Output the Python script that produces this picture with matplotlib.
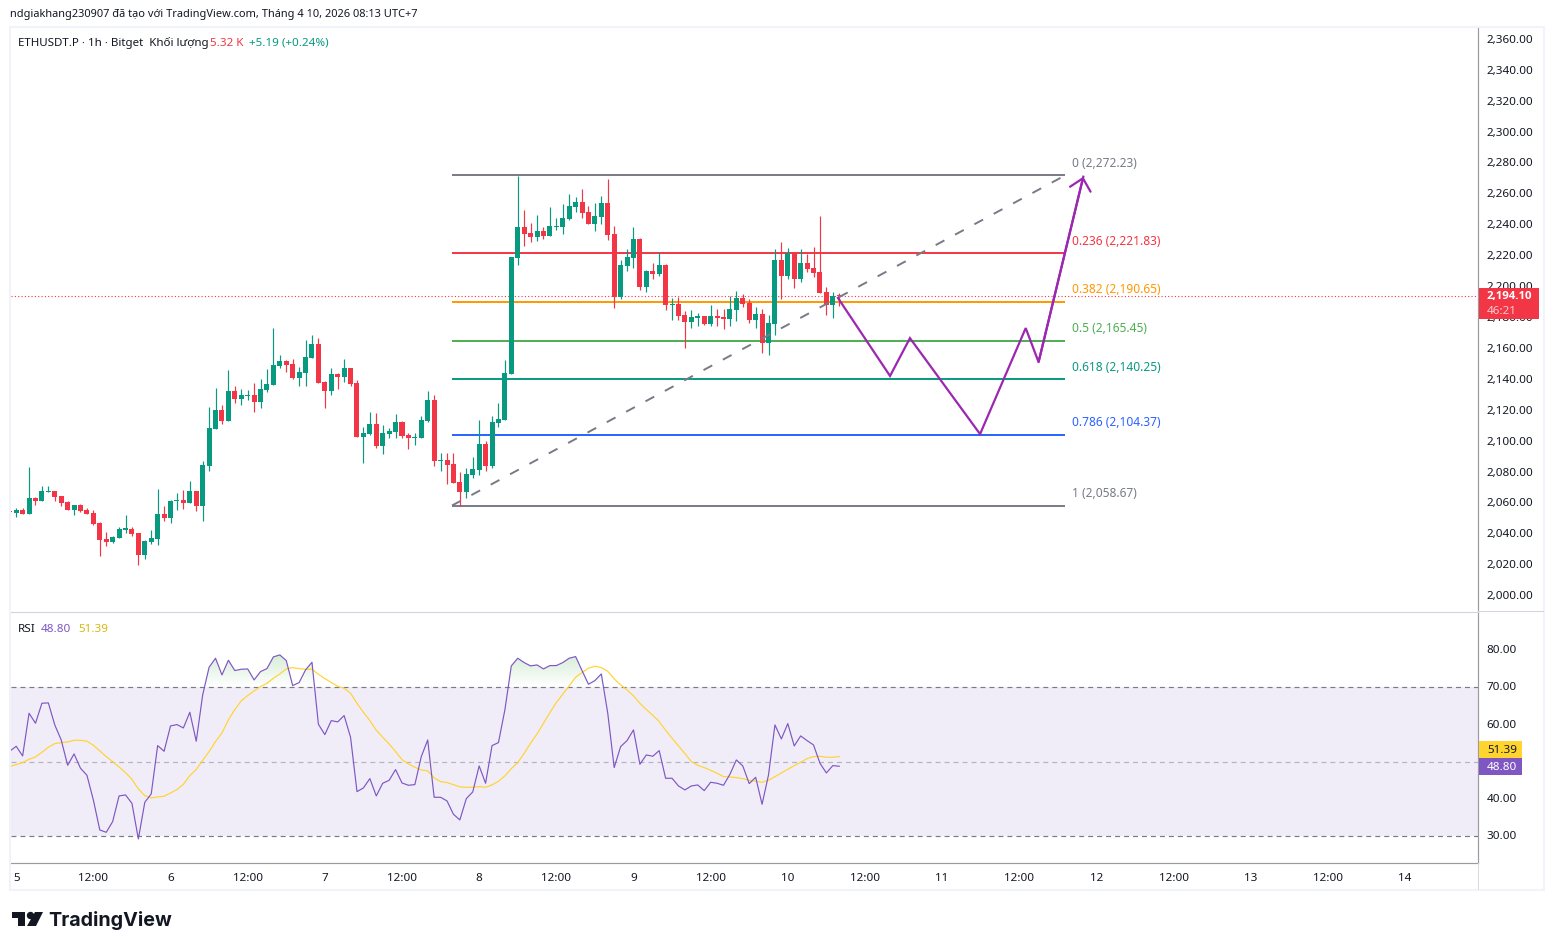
import matplotlib
matplotlib.use("Agg")
import matplotlib.pyplot as plt
import numpy as np
from matplotlib.patches import Rectangle, Polygon, PathPatch
from matplotlib.path import Path
from matplotlib.transforms import ScaledTranslation

W, H = 1554, 951
plt.rcParams["font.family"] = ["Noto Sans", "DejaVu Sans"]

# 1h candles, first one is 4 Apr 23:00
opens = [2054.9, 2054.1, 2055.8, 2053.4, 2063.5, 2061.8, 2067.6, 2068.1, 2064.8, 2061.0,
         2056.0, 2059.0, 2055.8, 2053.8, 2047.4, 2037.0, 2035.3, 2037.9, 2043.1, 2043.5,
         2040.9, 2026.9, 2035.3, 2037.2, 2053.2, 2050.8, 2061.6, 2062.3, 2060.5, 2068.1,
         2058.6, 2084.5, 2108.4, 2120.5, 2113.6, 2132.8, 2127.8, 2129.8, 2130.2, 2125.7,
         2133.4, 2136.7, 2149.0, 2152.2, 2150.3, 2141.2, 2144.4, 2154.1, 2163.2, 2138.6,
         2132.8, 2143.8, 2141.8, 2147.7, 2138.0, 2103.0, 2105.0, 2111.4, 2097.2, 2105.0,
         2106.3, 2112.7, 2104.3, 2102.6, 2102.4, 2113.4, 2127.0, 2087.5, 2088.1, 2085.5,
         2073.9, 2067.4, 2078.4, 2081.7, 2098.5, 2084.3, 2112.1, 2114.0, 2143.8, 2218.9,
         2238.9, 2235.0, 2232.4, 2236.3, 2233.1, 2238.9, 2238.9, 2244.1, 2251.9, 2255.1,
         2248.6, 2240.9, 2245.4, 2254.4, 2234.4, 2193.6, 2213.7, 2218.9, 2231.1, 2200.1,
         2210.4, 2208.5, 2214.3, 2188.4, 2189.1, 2182.0, 2177.4, 2180.2, 2181.3, 2176.1,
         2181.3, 2180.7, 2179.4, 2185.2, 2193.0, 2189.7, 2178.7, 2182.6, 2163.8, 2176.1,
         2217.5, 2207.2, 2222.1, 2205.2, 2215.6, 2212.4, 2209.8, 2196.8, 2188.4, 2194.8]
highs = [2055.2, 2056.8, 2056.8, 2083.4, 2064.2, 2071.3, 2071.3, 2068.1, 2064.8, 2061.6,
         2059.0, 2059.6, 2056.8, 2055.8, 2048.0, 2041.5, 2039.0, 2044.8, 2052.6, 2044.8,
         2040.9, 2036.4, 2042.9, 2069.4, 2058.4, 2062.3, 2066.8, 2068.8, 2074.6, 2068.1,
         2087.5, 2122.5, 2134.8, 2123.8, 2146.4, 2136.0, 2134.1, 2133.4, 2138.0, 2140.6,
         2147.0, 2173.6, 2156.1, 2152.8, 2153.5, 2148.3, 2165.8, 2169.0, 2167.1, 2139.3,
         2147.7, 2144.4, 2153.5, 2147.7, 2139.9, 2109.5, 2119.2, 2118.5, 2110.8, 2108.8,
         2117.9, 2113.4, 2105.6, 2105.6, 2116.6, 2132.8, 2130.2, 2092.7, 2092.7, 2092.7,
         2080.4, 2083.0, 2090.1, 2114.0, 2100.4, 2116.6, 2125.0, 2152.8, 2219.5, 2272.2,
         2249.9, 2241.5, 2246.7, 2238.9, 2251.9, 2244.7, 2253.8, 2260.3, 2258.3, 2263.5,
         2252.5, 2254.4, 2259.0, 2270.0, 2239.6, 2217.6, 2224.7, 2238.9, 2231.8, 2211.1,
         2215.6, 2222.7, 2215.0, 2193.0, 2193.6, 2184.5, 2185.2, 2183.2, 2181.3, 2188.4,
         2185.8, 2185.8, 2194.2, 2197.5, 2195.5, 2192.3, 2187.1, 2185.8, 2182.0, 2224.7,
         2229.2, 2225.3, 2222.1, 2224.7, 2221.4, 2226.0, 2246.0, 2200.1, 2196.8, 2196.2]
lows = [2054.5, 2051.5, 2053.4, 2053.4, 2059.2, 2061.8, 2067.6, 2061.8, 2058.6, 2056.0,
        2052.8, 2054.7, 2053.4, 2046.3, 2026.2, 2032.7, 2034.6, 2037.9, 2041.1, 2039.2,
        2020.4, 2024.3, 2034.0, 2033.4, 2048.9, 2047.6, 2056.0, 2056.7, 2060.5, 2055.3,
        2048.9, 2081.3, 2108.4, 2111.7, 2113.6, 2125.2, 2124.0, 2127.2, 2119.2, 2122.0,
        2132.1, 2136.7, 2147.7, 2145.1, 2140.6, 2136.0, 2136.0, 2154.1, 2138.0, 2121.8,
        2130.2, 2134.1, 2138.6, 2136.0, 2103.0, 2086.2, 2104.3, 2095.9, 2092.0, 2102.4,
        2102.4, 2102.4, 2095.3, 2097.8, 2102.4, 2112.7, 2084.3, 2081.0, 2072.6, 2073.3,
        2058.4, 2063.5, 2076.5, 2078.4, 2081.0, 2083.0, 2109.5, 2114.0, 2143.8, 2214.3,
        2226.6, 2229.2, 2229.9, 2231.1, 2233.1, 2237.0, 2234.4, 2243.4, 2248.6, 2244.7,
        2240.9, 2236.3, 2240.9, 2230.5, 2186.5, 2192.3, 2210.4, 2212.4, 2198.1, 2196.9,
        2205.3, 2207.2, 2185.2, 2178.7, 2178.7, 2160.6, 2173.5, 2174.8, 2175.5, 2174.8,
        2174.8, 2172.9, 2174.8, 2178.1, 2187.1, 2176.8, 2173.5, 2157.4, 2156.1, 2169.0,
        2192.3, 2205.2, 2199.4, 2203.3, 2209.8, 2206.5, 2196.2, 2182.0, 2180.0, 2187.8]
closes = [2054.6, 2055.8, 2053.4, 2063.5, 2061.6, 2068.1, 2068.1, 2064.4, 2060.5, 2056.0,
          2059.0, 2055.3, 2053.4, 2046.9, 2036.6, 2035.3, 2038.3, 2043.5, 2043.5, 2040.5,
          2026.9, 2035.7, 2037.7, 2053.2, 2050.8, 2061.6, 2062.3, 2060.5, 2068.1, 2058.6,
          2084.9, 2108.9, 2120.5, 2113.6, 2132.8, 2127.8, 2130.2, 2130.2, 2125.7, 2134.1,
          2137.3, 2149.6, 2152.2, 2149.6, 2141.2, 2145.1, 2154.8, 2163.2, 2138.0, 2132.8,
          2143.8, 2141.8, 2147.7, 2137.3, 2103.0, 2105.6, 2111.4, 2097.2, 2105.6, 2106.9,
          2112.7, 2103.7, 2102.4, 2103.0, 2114.0, 2127.0, 2087.5, 2088.1, 2084.9, 2073.3,
          2067.4, 2079.1, 2082.3, 2098.5, 2084.3, 2112.7, 2114.7, 2144.4, 2219.5, 2238.9,
          2234.4, 2232.4, 2236.3, 2233.1, 2239.6, 2239.6, 2244.7, 2252.5, 2255.1, 2248.0,
          2240.9, 2246.0, 2254.4, 2233.7, 2193.6, 2214.3, 2219.5, 2231.1, 2200.1, 2210.4,
          2208.5, 2214.3, 2188.4, 2189.1, 2181.3, 2177.4, 2180.7, 2181.3, 2176.1, 2181.3,
          2180.2, 2179.4, 2185.8, 2193.0, 2189.1, 2178.7, 2182.6, 2163.8, 2176.8, 2217.5,
          2207.2, 2222.1, 2205.2, 2215.6, 2211.7, 2209.1, 2196.2, 2188.4, 2194.2, 2194.1]

rsi = [52.82, 54.16, 51.57, 63.02, 60.34, 65.71, 65.80, 59.89, 55.86, 49.06,
       52.10, 48.26, 46.38, 39.75, 31.70, 31.07, 33.94, 40.83, 41.10, 38.86,
       29.28, 39.13, 41.37, 54.34, 52.82, 59.62, 59.98, 59.08, 63.29, 55.51,
       67.94, 75.37, 77.79, 73.31, 77.25, 74.48, 74.83, 74.92, 71.97, 74.21,
       75.01, 78.15, 78.68, 77.16, 70.45, 71.26, 74.66, 76.71, 60.07, 57.29,
       61.05, 60.70, 62.40, 56.58, 41.99, 42.98, 45.48, 40.83, 44.23, 45.03,
       47.90, 44.32, 43.69, 43.87, 51.39, 55.86, 40.47, 40.47, 39.49, 35.91,
       34.39, 40.11, 41.90, 48.88, 44.23, 54.34, 55.15, 63.92, 75.73, 77.79,
       76.62, 75.73, 76.00, 74.92, 75.82, 75.82, 76.62, 77.79, 78.24, 74.48,
       70.81, 71.79, 73.58, 63.02, 48.44, 54.07, 55.68, 58.55, 49.33, 51.84,
       51.48, 53.00, 45.57, 45.57, 43.51, 42.44, 43.51, 43.78, 42.26, 44.50,
       44.23, 43.69, 46.65, 50.49, 48.88, 44.14, 45.84, 38.59, 46.47, 59.89,
       56.13, 60.25, 54.25, 56.94, 55.68, 54.52, 49.60, 47.00, 48.97, 48.80]
rsi_ma = [48.71, 49.24, 49.78, 50.67, 51.30, 52.55, 53.89, 54.88, 55.15, 55.33,
          55.77, 55.77, 55.51, 54.43, 52.91, 51.39, 50.05, 48.61, 47.09, 45.30,
          42.71, 40.92, 40.29, 40.56, 40.74, 41.63, 42.53, 43.96, 46.29, 47.90,
          50.40, 52.73, 55.42, 57.74, 61.23, 64.01, 66.33, 67.77, 69.02, 70.18,
          71.08, 72.42, 73.58, 74.92, 75.28, 75.01, 74.83, 74.83, 73.49, 72.33,
          71.26, 70.27, 69.73, 68.39, 65.71, 63.29, 61.05, 58.46, 56.58, 54.79,
          52.73, 50.58, 49.42, 48.52, 47.81, 47.54, 45.66, 44.68, 44.41, 43.87,
          43.25, 43.16, 43.16, 43.33, 43.16, 43.78, 44.77, 46.20, 48.17, 49.78,
          52.28, 54.97, 57.47, 60.34, 63.20, 65.89, 68.12, 70.36, 72.69, 73.94,
          75.10, 75.64, 75.28, 74.30, 72.24, 70.63, 69.29, 67.68, 65.71, 64.01,
          62.49, 60.78, 58.46, 56.31, 54.25, 52.19, 50.05, 49.06, 48.44, 47.72,
          46.91, 46.02, 45.93, 45.75, 45.48, 45.03, 44.77, 44.50, 45.03, 46.02,
          47.00, 47.99, 48.97, 49.87, 50.85, 51.39, 51.48, 51.21, 51.21, 51.39]

fib_ratios = ["0", "0.236", "0.382", "0.5", "0.618", "0.786", "1"]
fib_prices = [2272.23, 2221.83, 2190.65, 2165.45, 2140.25, 2104.37, 2058.67]
fib_colors = ["#787b86", "#f23645", "#ff9800", "#4caf50", "#089981", "#2962ff", "#787b86"]
fib_start, fib_end = 67.78, 163.1

# hand drawn projection, hours since 5 Apr 00:00
path_hours = [127.8, 135.9, 139.0, 149.9, 157.0, 159.0, 165.96]
path_prices = [2193.0, 2142.5, 2167.0, 2104.9, 2173.5, 2151.5, 2271.45]

last_price = 2194.10
price_ticks = list(range(2000, 2361, 20))
rsi_ticks = [30, 40, 60, 70, 80]
x_ticks = list(range(0, 217, 12))
x_labels = ["5", "12:00", "6", "12:00", "7", "12:00", "8", "12:00", "9", "12:00",
            "10", "12:00", "11", "12:00", "12", "12:00", "13", "12:00", "14"]

GREEN = "#089981"
RED = "#f23645"
PURPLE = "#7e57c2"
YELLOW = "#ffd42e"
ARROW = "#9c27b0"
TEXT = "#131722"
BORDER = "#f0f3fa"
AXIS = "#999ba3"
XMIN, XMAX = -0.886, 227.34


def px_box(x0, y0, x1, y1):
    # figure rectangle from pixel edges (y measured from the top)
    return [x0 / W, 1 - y1 / H, (x1 - x0) / W, (y1 - y0) / H]


def fx(x):
    return x / W


def fy(y):
    return 1 - y / H


fig = plt.figure(figsize=(W / 100, H / 100), dpi=100, facecolor="white")
ax = fig.add_axes(px_box(10.5, 28, 1478, 612))
ax2 = fig.add_axes(px_box(10.5, 612, 1478, 863), sharex=ax)

hours = np.arange(-1, 129)
o = np.array(opens)
h = np.array(highs)
l = np.array(lows)
c = np.array(closes)
colors = [GREEN if cl >= op else RED for op, cl in zip(o, c)]

# candles
ax.vlines(hours, l, h, colors=colors, linewidth=0.85, zorder=4)
ax.bar(hours, np.maximum(np.abs(c - o), 0.7), bottom=np.minimum(o, c), width=0.78,
       color=colors, linewidth=0, zorder=5)

# fib retracement
for ratio, price, col in zip(fib_ratios, fib_prices, fib_colors):
    ax.plot([fib_start, fib_end], [price, price], color=col, lw=1.4, zorder=3,
            solid_capstyle="butt")
    ax.annotate(f"{ratio} ({price:,.2f})", (fib_end, price), xytext=(5, 8.6),
                textcoords="offset points", color=col, fontsize=8.6, va="center", ha="left")
ax.plot([fib_start, fib_end], [fib_prices[-1], fib_prices[0]], color="#787b86", lw=1.4,
        dashes=(5.1, 6.2), zorder=6)

# last price line
ax.axhline(last_price, color=RED, lw=0.8, dashes=(1, 2), zorder=2)

# projected path with an open arrow head
ax.plot(path_hours, path_prices, color=ARROW, lw=1.6, zorder=7, solid_joinstyle="miter")
ax.annotate("", xy=(path_hours[-1], path_prices[-1]),
            xytext=(path_hours[-2], path_prices[-2]),
            arrowprops=dict(arrowstyle="->,head_length=0.81,head_width=0.76", color=ARROW,
                            lw=1.6, shrinkA=0, shrinkB=0), zorder=7)

ax.set_ylim(1989.76, 2367.68)
ax.set_xlim(XMIN, XMAX)
ax.set_yticks(price_ticks)
ax.set_yticklabels([f"{p:,.2f}" for p in price_ticks])
ax.yaxis.tick_right()
ax.tick_params(axis="y", length=0, pad=6.3, labelsize=8.4, colors=TEXT)
ax.tick_params(axis="x", length=0, labelbottom=False)

# RSI pane
ax2.axhspan(30, 70, color=PURPLE, alpha=0.1, lw=0, zorder=1)
for level, alpha in [(70, 1), (50, 0.5), (30, 1)]:
    ax2.axhline(level, color="#787b86", lw=0.85, dashes=(4.2, 3.4), alpha=alpha, zorder=2)

poly = ax2.fill_between(hours, 70, rsi, where=np.array(rsi) >= 70, interpolate=True, alpha=0)
clip = Path.make_compound_path(*poly.get_paths())
grad = np.zeros((64, 2, 4))
grad[..., 0] = 0.30
grad[..., 1] = 0.69
grad[..., 2] = 0.31
grad[..., 3] = np.linspace(0.24, 0, 64)[:, None]
im = ax2.imshow(grad, extent=(-1, 128, 70, 79), origin="upper", aspect="auto", zorder=2)
im.set_clip_path(PathPatch(clip, transform=ax2.transData))

ax2.plot(hours, rsi_ma, color=YELLOW, lw=0.85, zorder=3)
ax2.plot(hours, rsi, color=PURPLE, lw=0.85, zorder=4)

ax2.set_ylim(22.83, 90.2)
ax2.set_xlim(XMIN, XMAX)
ax2.set_yticks(rsi_ticks)
ax2.set_yticklabels([f"{v:.2f}" for v in rsi_ticks])
ax2.yaxis.tick_right()
ax2.tick_params(axis="y", length=0, pad=6.3, labelsize=8.4, colors=TEXT)
ax2.set_xticks(x_ticks)
ax2.set_xticklabels(x_labels)
ax2.tick_params(axis="x", length=0, pad=7, labelsize=8.4, colors=TEXT)

# scale labels sit a pixel above their level
nudge = ScaledTranslation(0, 1 / 100, fig.dpi_scale_trans)
for a in (ax, ax2):
    for t in a.get_yticklabels():
        t.set_transform(t.get_transform() + nudge)
    a.spines["left"].set_visible(False)
    a.spines["right"].set_color(AXIS)
    a.spines["right"].set_linewidth(0.85)
ax.spines["top"].set_visible(False)
ax.spines["bottom"].set_visible(False)
ax2.spines["top"].set_color("#d1d4dc")
ax2.spines["top"].set_linewidth(0.8)
ax2.spines["bottom"].set_color(AXIS)
ax2.spines["bottom"].set_linewidth(0.85)

# chart frame
fig.add_artist(Rectangle((fx(10), fy(890)), (1544 - 10) / W, (890 - 27) / H,
                         transform=fig.transFigure, fill=False, edgecolor=BORDER, lw=1.5))
fig.add_artist(Rectangle((fx(1478), fy(612)), 66 / W, 0.8 / H, transform=fig.transFigure,
                         facecolor="#d1d4dc", lw=0))
fig.add_artist(Rectangle((fx(1478), fy(890)), 0.6 / W, 27 / H, transform=fig.transFigure,
                         facecolor="#d9dbe0", lw=0))


def label(x, y, s, **kw):
    kw.setdefault("fontsize", 8.4)
    kw.setdefault("color", TEXT)
    kw.setdefault("va", "center")
    kw.setdefault("zorder", 12)
    return fig.text(fx(x), fy(y), s, **kw)


label(10, 14, "ndgiakhang230907 đã tạo với TradingView.com, Tháng 4 10, 2026 08:13 UTC+7",
      fontsize=7.95)
label(18, 43, "ETHUSDT.P · 1h · Bitget  Khối lượng", fontsize=8.3)
label(210, 43, "5.32 K", color=RED)
label(249, 43, "+5.19 (+0.24%)", color=GREEN)
label(18, 629, "RSI")
label(41, 629, "48.80", color=PURPLE)
label(78, 629, "51.39", color="#d9b70f")

# value tags on the scales
fig.add_artist(Rectangle((fx(1479), fy(318.5)), 60 / W, 30.5 / H, transform=fig.transFigure,
                         facecolor=RED, lw=0, zorder=10))
label(1487, 297, f"{last_price:,.2f}", color="white", fontweight="bold", family="Open Sans",
      fontsize=8.2)
label(1487, 311, "46:21", color="#fbc9ce")
fig.add_artist(Rectangle((fx(1478.5), fy(758)), 43 / W, 17 / H, transform=fig.transFigure,
                         facecolor=YELLOW, lw=0, zorder=10))
label(1487, 750.5, f"{rsi_ma[-1]:.2f}")
fig.add_artist(Rectangle((fx(1478.5), fy(775)), 43 / W, 17 / H, transform=fig.transFigure,
                         facecolor=PURPLE, lw=0, zorder=10))
label(1487, 767.5, f"{rsi[-1]:.2f}", color="white")

# TradingView mark and wordmark
mark_t = [(12, 912), (25, 912), (25, 926), (18, 926), (18, 918), (12, 918)]
mark_s = [(35, 912), (43, 912), (36, 926), (27, 926)]
for pts in (mark_t, mark_s):
    fig.add_artist(Polygon([(fx(x), fy(y)) for x, y in pts], closed=True,
                           transform=fig.transFigure, facecolor=TEXT, lw=0))
fig.add_artist(plt.Line2D([fx(30)], [fy(915)], marker="o", markersize=4.3, color=TEXT,
                          transform=fig.transFigure, lw=0))
label(48, 921, "TradingView", fontsize=14.2, fontweight="bold", family="Inter")

fig.savefig("out.png", dpi=100, facecolor="white")
